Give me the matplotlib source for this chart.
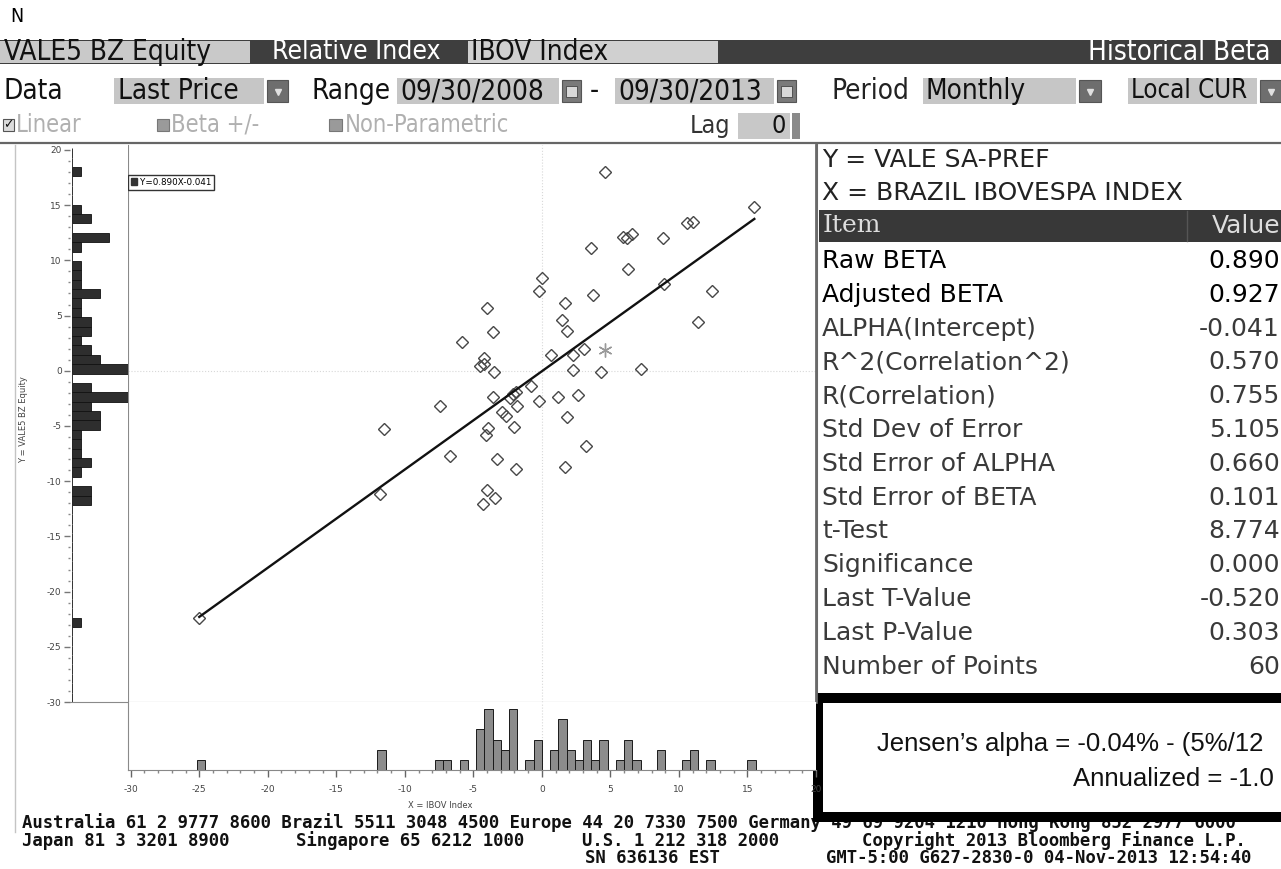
import numpy as np
import matplotlib.pyplot as plt
from matplotlib.patches import Rectangle, Patch
from matplotlib.ticker import MultipleLocator
from matplotlib import font_manager as fm

plt.rcParams['axes.unicode_minus'] = False

W, H = 1281, 869

# monthly returns in % (x = IBOV, y = VALE5)
ibov = [4.6, 15.5, 10.6, 11.0, 5.9, 6.6, 6.2, 8.8, 3.6, 6.3, 0.0, -0.2, 8.9, 12.4, 3.7,
        1.7, -4.0, 11.4, 1.5, 1.8, -3.6, -5.8, 3.1, 2.3, 0.7, -4.2, -4.5, -4.2, -3.5, 2.3,
        4.3, 7.2, -0.8, -3.6, -2.1, -2.3, -7.4, -0.2, 1.2, 2.6, -1.8, -2.9, -2.6, 1.8, -11.5,
        -2.0, -3.9, -4.1, 3.2, -6.7, -3.3, -1.9, 1.7, -4.0, -3.4, -4.3, -11.8, -25.0, -1.9]
vale = [18.0, 14.8, 13.4, 13.5, 12.1, 12.4, 12.0, 12.0, 11.1, 9.2, 8.4, 7.2, 7.9, 7.2, 6.9,
        6.1, 5.7, 4.4, 4.6, 3.6, 3.5, 2.6, 2.0, 1.4, 1.4, 1.2, 0.4, 0.6, -0.1, 0.1,
        -0.1, 0.2, -1.4, -2.4, -2.1, -2.5, -3.2, -2.7, -2.4, -2.2, -3.2, -3.7, -4.1, -4.2, -5.3,
        -5.1, -5.2, -5.8, -6.8, -7.7, -8.0, -8.9, -8.7, -10.8, -11.5, -12.1, -11.2, -22.4, -1.9]
last_x, last_y = 4.6, 1.9   # last observation, drawn as a star

beta = 0.890
alpha = -0.041

items = ["Raw BETA", "Adjusted BETA", "ALPHA(Intercept)", "R^2(Correlation^2)",
         "R(Correlation)", "Std Dev of Error", "Std Error of ALPHA", "Std Error of BETA",
         "t-Test", "Significance", "Last T-Value", "Last P-Value", "Number of Points"]
values = ["0.890", "0.927", "-0.041", "0.570", "0.755", "5.105", "0.660", "0.101",
          "8.774", "0.000", "-0.520", "0.303", "60"]

footer1 = "Australia 61 2 9777 8600 Brazil 5511 3048 4500 Europe 44 20 7330 7500 Germany 49 69 9204 1210 Hong Kong 852 2977 6000"

# condensed face for the header rows if it is there
cpath = fm.findfont(fm.FontProperties(family='DejaVu Sans', stretch='condensed'))
if 'Condensed' in cpath:
    hdr = dict(family='DejaVu Sans', stretch='condensed')
    hs, hs3 = 20, 17
else:
    hdr = dict(family='DejaVu Sans')
    hs, hs3 = 18, 15.5

fig = plt.figure(figsize=(W / 100, H / 100), dpi=100)
bg = fig.add_axes([0, 0, 1, 1])
bg.set_xlim(0, W)
bg.set_ylim(H, 0)
bg.axis('off')


def box(x0, y0, x1, y1, **kw):
    bg.add_patch(Rectangle((x0, y0), x1 - x0, y1 - y0, **kw))


def txt(x, y, s, **kw):
    kw.setdefault('va', 'center')
    bg.text(x, y, s, **kw)


def axpos(l, t, r, b):
    return [l / W, 1 - b / H, (r - l) / W, (b - t) / H]


def dropdown(x0, x1):
    box(x0, 80, x1, 102, fc='#6e6e6e', ec='#555', lw=0.8)
    bg.plot((x0 + x1) / 2, 92, marker='v', ms=4, color='#e0e0e0')


def calendar(x0, x1):
    box(x0, 80, x1, 102, fc='#7a7a7a', ec='#555', lw=0.8)
    box(x0 + 4, 86, x1 - 4, 97, fc='#d8d8d8', ec='#444', lw=0.6)


# top
txt(10, 16, "N", fontsize=14, **hdr)

# header bar
box(0, 40, W, 64, fc='#3e3e3e', ec='none')
box(0, 41, 250, 63, fc='#c9c9c9', ec='none')
txt(4, 52, "VALE5 BZ Equity", fontsize=hs, color='#111', **hdr)
txt(272, 52, "Relative Index", fontsize=hs - 1, color='white', **hdr)
box(468, 41, 718, 63, fc='#d0d0d0', ec='none')
txt(471, 52, "IBOV Index", fontsize=hs, color='#111', **hdr)
txt(1271, 52, "Historical Beta", fontsize=hs, color='white', ha='right', **hdr)

# second row
txt(4, 91, "Data", fontsize=hs, color='#111', **hdr)
box(114, 78, 264, 104, fc='#c6c6c6', ec='none')
txt(118, 91, "Last Price", fontsize=hs, color='#111', **hdr)
dropdown(267, 288)
txt(311, 91, "Range", fontsize=hs, color='#111', **hdr)
box(397, 78, 559, 104, fc='#c6c6c6', ec='none')
txt(400, 91, "09/30/2008", fontsize=hs, color='#111', **hdr)
calendar(562, 581)
txt(590, 91, "-", fontsize=hs, color='#111', **hdr)
box(615, 78, 774, 104, fc='#c6c6c6', ec='none')
txt(618, 91, "09/30/2013", fontsize=hs, color='#111', **hdr)
calendar(777, 796)
txt(832, 91, "Period", fontsize=hs, color='#222', **hdr)
box(923, 78, 1076, 104, fc='#c6c6c6', ec='none')
txt(926, 91, "Monthly", fontsize=hs, color='#111', **hdr)
dropdown(1079, 1101)
box(1128, 78, 1257, 104, fc='#c6c6c6', ec='none')
txt(1131, 91, "Local CUR", fontsize=hs - 1.5, color='#111', **hdr)
dropdown(1260, W)

# third row
box(3, 119, 14, 131, fc='#dcdcdc', ec='#555', lw=0.8)
txt(8.5, 125, "\u2713", fontsize=9, ha='center', color='#111')
txt(16, 125, "Linear", fontsize=hs3, color='#b0b0b0', **hdr)
box(157, 119, 169, 131, fc='#9a9a9a', ec='#777', lw=0.8)
txt(171, 125, "Beta +/-", fontsize=hs3, color='#b0b0b0', **hdr)
box(329, 119, 342, 131, fc='#9a9a9a', ec='#777', lw=0.8)
txt(345, 125, "Non-Parametric", fontsize=hs3, color='#b0b0b0', **hdr)
txt(690, 126, "Lag", fontsize=hs3 + 1, color='#333', **hdr)
box(738, 113, 790, 139, fc='#c8c8c8', ec='none')
txt(786, 126, "0", fontsize=hs3 + 1, color='#111', ha='right', **hdr)
box(792, 113, 800, 139, fc='#8a8a8a', ec='none')
bg.plot([0, W], [143, 143], color='#666', lw=1.6)

# left frame line
bg.plot([15, 15], [145, 832], color='#c4c4c4', lw=1)

# scatter
ax = fig.add_axes(axpos(128, 145, 816, 702))
ax.set_xlim(-30.2, 20.0)
ax.set_ylim(-30, 20.45)
ax.axhline(0, color='#d8d8d8', lw=0.8, ls=':', zorder=0)
ax.axvline(0, color='#d8d8d8', lw=0.8, ls=':', zorder=0)
ax.plot(ibov, vale, 'D', ms=6, mfc='none', mec='#474747', mew=1.0, ls='none')
xs = np.array([min(ibov), max(ibov)])
ax.plot(xs, beta * xs + alpha, color='#111', lw=1.7)
ax.plot(last_x, last_y, marker=(6, 2, 0), ms=10, color='#9a9a9a', mew=1)
ax.set_xticks([])
ax.set_yticks([])
ax.spines['top'].set_visible(False)
ax.spines['left'].set_color('#8a8a8a')
ax.spines['bottom'].set_color('#8a8a8a')
ax.spines['bottom'].set_linestyle((0, (4, 1)))
ax.spines['right'].set_color('#6a6a6a')
ax.spines['right'].set_linewidth(2)
ax.legend(handles=[Patch(fc='#333', ec='#333')],
          labels=[f"Y={beta:.3f}X{alpha:+.3f}"],
          loc='upper left', bbox_to_anchor=(0, 0.947), borderaxespad=0,
          fontsize=6.3, handlelength=0.7, handleheight=0.7, handletextpad=0.3,
          borderpad=0.35, fancybox=False, framealpha=1, edgecolor='#333')

all_x = ibov + [last_x]
all_y = vale + [last_y]

# y marginal histogram
ay = fig.add_axes(axpos(70, 145, 128, 702))
cy, _, _ = ay.hist(all_y, bins=np.arange(-30, 21, 0.85), orientation='horizontal',
                   color='#2e2e2e', edgecolor='#111', lw=0.6)
ay.set_ylim(-30, 20.45)
ay.set_xlim(-0.2, cy.max())
ay.set_xticks([])
ay.yaxis.set_major_locator(MultipleLocator(5))
ay.yaxis.set_minor_locator(MultipleLocator(1))
ay.tick_params(axis='y', which='major', length=4, width=1, color='#777',
               labelsize=6.5, labelcolor='#444', pad=2)
ay.tick_params(axis='y', which='minor', length=1.5, width=1, color='#888')
for s in ['top', 'right', 'left']:
    ay.spines[s].set_visible(False)
ay.spines['bottom'].set_color('#8a8a8a')
txt(24, 420, "Y = VALE5 BZ Equity", rotation=90, ha='center', fontsize=6, color='#444')

# x marginal histogram
axh = fig.add_axes(axpos(128, 702, 816, 770))
cx, _, _ = axh.hist(all_x, bins=np.arange(-30, 20.01, 0.6), color='#8c8c8c',
                    edgecolor='#1a1a1a', lw=0.7)
axh.set_xlim(-30.2, 20.0)
axh.set_ylim(0, cx.max() * 68 / 61)
axh.axvline(0, color='#d8d8d8', lw=0.8, ls=':', zorder=0)
axh.set_yticks([])
axh.xaxis.set_major_locator(MultipleLocator(5))
axh.xaxis.set_minor_locator(MultipleLocator(1))
axh.tick_params(axis='x', which='major', length=5, width=1, color='#666',
                labelsize=6.5, labelcolor='#444', pad=6)
axh.tick_params(axis='x', which='minor', length=2.5, width=1, color='#888')
axh.spines['top'].set_visible(False)
axh.spines['right'].set_visible(False)
axh.spines['left'].set_color('#8a8a8a')
axh.spines['bottom'].set_color('#888')
axh.spines['bottom'].set_linestyle((0, (2, 1)))
txt(440, 806, "X = IBOV Index", ha='center', fontsize=6, color='#444')

# statistics panel
txt(822, 160, "Y = VALE SA-PREF", fontsize=18, color='#222')
txt(822, 193, "X = BRAZIL IBOVESPA INDEX", fontsize=18, color='#222')
box(819, 210, W, 242, fc='#383838', ec='none')
bg.plot([1187, 1187], [211, 241], color='#555', lw=1)
txt(823, 226, "Item", fontsize=18, color='#dddddd', family='DejaVu Serif')
txt(1280, 226, "Value", fontsize=18, color='#dddddd', ha='right')
for i, (it, v) in enumerate(zip(items, values)):
    y = 261 + i * 33.8
    c = '#000' if i < 2 else '#3a3a3a'
    txt(822, y, it, fontsize=18, color=c)
    txt(1280, y, v, fontsize=18, color=c, ha='right')
bg.plot([817, 817], [145, 693], color='#777', lw=1.5)

# footer
mono = dict(family='DejaVu Sans Mono', fontsize=12.4, color='#111', weight='bold')
txt(22, 823, footer1, **mono)
txt(22, 841, "Japan 81 3 3201 8900", **mono)
txt(296, 841, "Singapore 65 6212 1000", **mono)
txt(582, 841, "U.S. 1 212 318 2000", **mono)
txt(862, 841, "Copyright 2013 Bloomberg Finance L.P.", **mono)
txt(585, 858, "SN 636136 EST", **mono)
txt(826, 858, "GMT-5:00 G627-2830-0 04-Nov-2013 12:54:40", **mono)

# annotation box (runs off the right edge)
bg.add_patch(Rectangle((818, 698), 480, 119, fc='white', ec='black', lw=7.2, zorder=5))
txt(877, 744, "Jensen\u2019s alpha = -0.04% - (5%/12", family='Liberation Sans',
    fontsize=18.5, color='#111', zorder=6)
txt(1073, 779, "Annualized = -1.0", family='Liberation Sans',
    fontsize=18.5, color='#111', zorder=6)

fig.savefig("out.png", dpi=100)
